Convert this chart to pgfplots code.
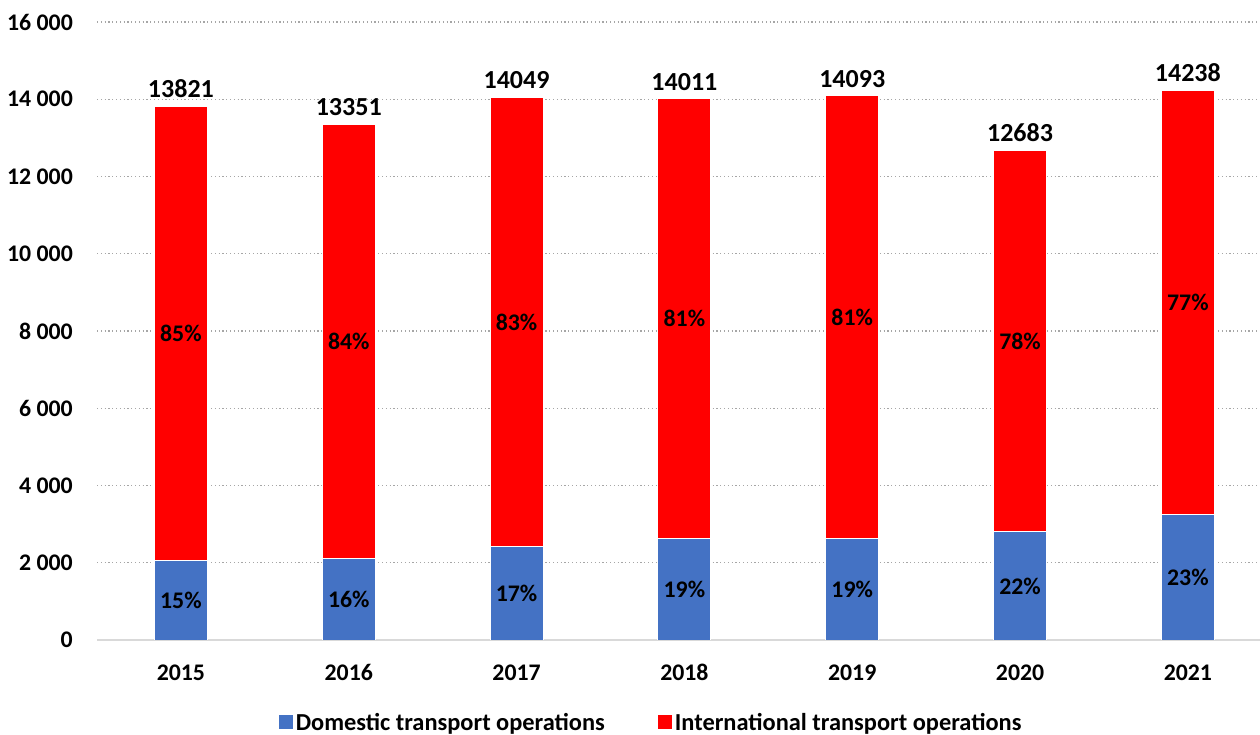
\documentclass[border=0pt]{standalone}
\usepackage{fontspec}
\setmainfont{Carlito}
\usepackage{pgfplots}
\pgfplotsset{compat=1.18}
\definecolor{dom}{HTML}{4472C4}
\definecolor{intl}{HTML}{FF0000}
\pgfplotstableread{
x dom intl
0 2060 11761
1 2110 11241
2 2410 11639
3 2620 11391
4 2630 11463
5 2800 9883
6 3260 10978
}\bars
\pgfplotstableread{
x y lab
0 1030 15
1 1055 16
2 1205 17
3 1310 19
4 1315 19
5 1400 22
6 1630 23
}\domlab
\pgfplotstableread{
x y lab
0 7940 85
1 7730 84
2 8230 83
3 8315 81
4 8362 81
5 7741 78
6 8749 77
}\intlab
\pgfplotstableread{
x y lab
0 13821 13821
1 13351 13351
2 14049 14049
3 14011 14011
4 14093 14093
5 12683 12683
6 14238 14238
}\totlab
\begin{document}
\begin{tikzpicture}
\path[use as bounding box] (0,0) rectangle (1260bp,735bp);
\pgfplotsset{base/.style={at={(97bp,95bp)}, anchor=south west, width=1163bp, height=618bp, scale only axis,
  xmin=-0.5, xmax=6.43, ymin=0, ymax=16000, scaled y ticks=false, scaled x ticks=false}}
\begin{axis}[base, ybar stacked, bar width=53bp,
  font=\fontsize{23.8bp}{28bp}\selectfont\bfseries,
  xtick={0,...,6}, xticklabels={2015,2016,2017,2018,2019,2020,2021},
  ytick={0,2000,...,16000}, yticklabels={0,2 000,4 000,6 000,8 000,10 000,12 000,14 000,16 000},
  major tick length=0pt,
  axis lines*=left,
  y axis line style={draw=none},
  x axis line style={draw=black!15, line width=1.5bp, -},
  ymajorgrids, grid style={draw=black!35, line width=1.2bp, dash pattern=on 1.2bp off 2.6bp},
  yticklabel style={anchor=east, inner sep=0pt, xshift=-24bp},
  xticklabel style={anchor=base, inner sep=0pt, yshift=-40bp},
  legend style={at={(0.476,-0.133)}, anchor=center, draw=none, fill=none, legend columns=2,
    font=\fontsize{24.4bp}{28bp}\selectfont\bfseries,
    /tikz/every even column/.append style={column sep=50bp}, nodes={inner sep=2bp}},
  legend image code/.code={\fill[#1] (0bp,-7.5bp) rectangle (15bp,7.5bp);},
  ]
\addplot[fill=dom, draw=white, line width=1bp] table[x=x, y=dom] {\bars};
\addlegendentry{Domestic transport operations}
\addplot[fill=intl, draw=white, line width=1bp] table[x=x, y=intl] {\bars};
\addlegendentry{International transport operations}
\end{axis}
\begin{axis}[base, hide axis, font=\fontsize{23.8bp}{28bp}\selectfont\bfseries]
\addplot[draw=none, mark=none, nodes near coords={\pgfplotspointmeta\%}, point meta=explicit symbolic,
  every node near coord/.style={anchor=center, inner sep=0pt}] table[x=x, y=y, meta=lab] {\domlab};
\addplot[draw=none, mark=none, nodes near coords={\pgfplotspointmeta\%}, point meta=explicit symbolic,
  every node near coord/.style={anchor=center, inner sep=0pt}] table[x=x, y=y, meta=lab] {\intlab};
\addplot[draw=none, mark=none, nodes near coords={\fontsize{26bp}{30bp}\selectfont\pgfplotspointmeta}, point meta=explicit symbolic,
  every node near coord/.style={anchor=south, inner sep=0pt, yshift=8bp}] table[x=x, y=y, meta=lab] {\totlab};
\end{axis}
\end{tikzpicture}
\end{document}
